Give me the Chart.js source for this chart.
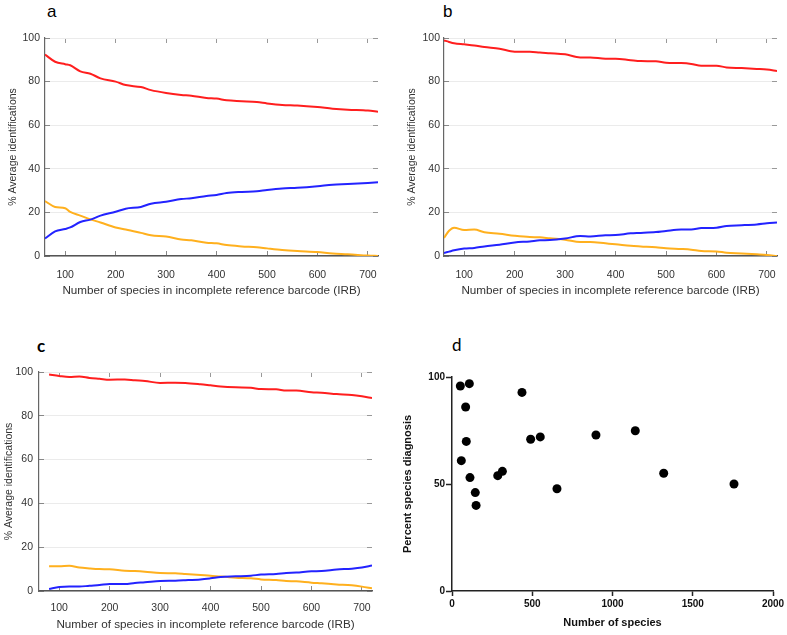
<!DOCTYPE html>
<html>
<head>
<meta charset="utf-8">
<script src="https://cdn.jsdelivr.net/npm/chart.js@4"></script>
<style>
  body { margin: 0; background: #fff; width: 787px; height: 635px; position: relative; overflow: hidden; }
  canvas { position: absolute; }
  .letra { position: absolute; font-size: 17px; color: #000; line-height: 1; }
</style>
</head>
<body>
<div class="letra" style="left:47px;top:3px;font-family:'Liberation Sans',Arial,sans-serif">a</div>
<div class="letra" style="left:443px;top:3px;font-family:'Liberation Sans',Arial,sans-serif">b</div>
<div class="letra" style="left:37px;top:337px;font-family:Lato,sans-serif;font-weight:bold">c</div>
<div class="letra" style="left:452px;top:336px;font-family:Lato,sans-serif">d</div>

<canvas id="ga" width="390" height="300" style="left:0;top:0"></canvas>
<canvas id="gb" width="397" height="300" style="left:390px;top:0"></canvas>
<canvas id="gc" width="390" height="335" style="left:0;top:300px"></canvas>
<canvas id="gd" width="397" height="335" style="left:390px;top:300px"></canvas>

<script>
// ticks de los paneles a, b, c
const ticksX = [100, 200, 300, 400, 500, 600, 700];
const ticksY = [0, 20, 40, 60, 80, 100];

// panel a
const aX = [60, 80, 100, 110, 130, 150, 170, 200, 220, 250, 270, 300, 330, 350, 380, 400, 420, 450, 480, 500, 530, 560, 600, 630, 660, 700, 720];
const aRojo = [92.4, 89.1, 88, 87.5, 84.7, 83.6, 81.5, 80, 78.4, 77.5, 76.1, 74.8, 73.9, 73.5, 72.5, 72.2, 71.4, 71, 70.6, 70, 69.3, 69, 68.3, 67.6, 67.1, 66.7, 66.2];
const aAzul = [8, 11.3, 12.4, 13.1, 15.6, 16.7, 18.5, 20.3, 21.7, 22.5, 24, 24.9, 26.1, 26.5, 27.5, 28, 28.9, 29.4, 29.7, 30.3, 31, 31.3, 32, 32.7, 33, 33.5, 33.8];
const aNaranja = [25.2, 22.5, 21.9, 20.2, 18.5, 16.8, 15.4, 13.1, 12.2, 10.6, 9.5, 8.9, 7.6, 7.2, 6.1, 5.8, 5, 4.4, 4, 3.5, 2.8, 2.3, 1.8, 1.1, 0.8, 0.2, 0];

// panel b
const bX = [60, 70, 80, 100, 120, 140, 170, 200, 230, 250, 270, 300, 330, 350, 380, 400, 430, 450, 480, 500, 530, 550, 570, 600, 620, 650, 680, 700, 720];
const bRojo = [98.9, 98.2, 97.6, 97.1, 96.6, 95.9, 95.1, 93.7, 93.7, 93.3, 93, 92.5, 91.1, 91.1, 90.5, 90.5, 89.8, 89.4, 89.3, 88.7, 88.5, 88.1, 87.3, 87.3, 86.5, 86.2, 85.8, 85.5, 84.9];
const bAzul = [1.4, 2, 2.6, 3.4, 3.7, 4.4, 5.2, 6.2, 6.7, 7.2, 7.3, 8, 9.2, 9, 9.5, 9.6, 10.4, 10.6, 11, 11.5, 12.1, 12.1, 12.8, 13, 13.8, 14.1, 14.5, 15, 15.4];
const bNaranja = [8.3, 11.6, 13, 11.9, 12.1, 10.9, 10.2, 9.3, 8.7, 8.6, 8.1, 7.5, 6.4, 6.4, 5.8, 5.4, 4.7, 4.4, 4, 3.5, 3.2, 2.9, 2.3, 2.1, 1.5, 1.2, 0.8, 0.5, 0];

// panel c
const cX = [80, 100, 120, 140, 160, 180, 200, 230, 250, 270, 300, 330, 350, 380, 400, 420, 450, 480, 500, 530, 550, 570, 600, 620, 650, 680, 700, 720];
const cRojo = [98.9, 98.2, 97.7, 97.9, 97.3, 96.9, 96.5, 96.6, 96.2, 95.9, 95, 95.1, 95, 94.4, 93.9, 93.4, 93, 92.8, 92.2, 92.1, 91.5, 91.5, 90.7, 90.5, 89.9, 89.5, 88.9, 88.1];
const cAzul = [0.9, 1.8, 2, 2, 2.4, 2.7, 3.2, 3.2, 3.7, 4, 4.6, 4.7, 4.9, 5.3, 5.8, 6.4, 6.7, 7, 7.5, 7.8, 8.2, 8.4, 9, 9.1, 9.8, 10.2, 10.7, 11.6];
const cNaranja = [11.3, 11.3, 11.5, 10.7, 10.3, 10, 9.9, 9.3, 9.1, 8.8, 8.2, 8.1, 7.8, 7.3, 7, 6.6, 6.1, 5.8, 5.3, 5, 4.6, 4.4, 3.8, 3.5, 3, 2.6, 2, 1.2];

// panel d
const dEspecies = [52, 108, 85, 89, 58, 112, 145, 150, 285, 314, 436, 490, 550, 654, 897, 1142, 1319, 1757];
const dDiagnostico = [95.8, 96.9, 86, 69.9, 60.9, 53, 46, 40, 53.9, 55.9, 92.8, 70.9, 72, 47.8, 72.9, 74.9, 55, 50];
const dTicksX = [0, 500, 1000, 1500, 2000];
const dTicksY = [0, 50, 100];

const FUENTE = "'Liberation Sans', Arial, sans-serif";
const ROJO = "rgb(255, 30, 30)";
const AZUL = "rgb(35, 35, 255)";
const NARANJA = "rgb(255, 176, 30)";

function fijarTicks(lista) {
  return function (s) { s.ticks = lista.map(v => ({ value: v })); };
}

function sinPadding(s) {
  s.paddingLeft = 0; s.paddingRight = 0; s.paddingTop = 0; s.paddingBottom = 0;
}

function panelLineas(id, xs, rojo, azul, naranja, caja) {
  const puntos = arr => xs.map((x, i) => ({ x: x, y: arr[i] }));
  const serie = (arr, color) => ({
    data: puntos(arr), borderColor: color, backgroundColor: color,
    borderWidth: 2, pointRadius: 0, tension: 0.4, cubicInterpolationMode: "monotone", fill: false
  });
  const marcas = { drawOnChartArea: false, tickLength: -5, tickColor: "#999", tickWidth: 1 };

  return new Chart(document.getElementById(id), {
    type: "line",
    data: { datasets: [serie(rojo, ROJO), serie(azul, AZUL), serie(naranja, NARANJA)] },
    options: {
      responsive: false,
      animation: false,
      plugins: { legend: { display: false }, tooltip: { enabled: false } },
      layout: { padding: 0 },
      scales: {
        x: {
          type: "linear", position: "bottom", min: 60, max: 720,
          afterBuildTicks: fijarTicks(ticksX),
          afterFit: s => { s.height = caja.abajo; sinPadding(s); },
          grid: { drawOnChartArea: false, tickLength: -5, tickColor: "#888", tickWidth: 1 },
          border: { color: "#555", width: 1.5 },
          ticks: { padding: caja.padX, color: "#333", font: { family: FUENTE, size: 10.5 } },
          title: {
            display: true, text: "Number of species in incomplete reference barcode (IRB)",
            color: "#333", font: { family: FUENTE, size: 11.7 }, padding: { top: 0, bottom: caja.tituloX }
          }
        },
        x2: {
          type: "linear", position: "top", min: 60, max: 720,
          afterBuildTicks: fijarTicks(ticksX),
          afterFit: s => { s.height = caja.arriba; sinPadding(s); },
          grid: marcas,
          border: { display: false },
          ticks: { display: false }
        },
        y: {
          type: "linear", position: "left", min: 0, max: 100,
          afterBuildTicks: fijarTicks(ticksY),
          afterFit: s => { s.width = caja.izq; sinPadding(s); },
          grid: { color: "#ebebeb", lineWidth: 1, tickLength: -5, tickColor: "#888", tickWidth: 1 },
          border: { color: "#666", width: 1.2 },
          ticks: { padding: caja.padY, color: "#333", font: { family: FUENTE, size: 10.5 } },
          title: {
            display: true, text: "% Average identifications",
            color: "#333", font: { family: FUENTE, size: 10.5 }, padding: { top: caja.tituloY, bottom: 0 }
          }
        },
        y2: {
          type: "linear", position: "right", min: 0, max: 100,
          afterBuildTicks: fijarTicks(ticksY),
          afterFit: s => { s.width = caja.der; sinPadding(s); },
          grid: marcas,
          border: { display: false },
          ticks: { display: false }
        }
      }
    }
  });
}

panelLineas("ga", aX, aRojo, aAzul, aNaranja,
  { izq: 45, der: 12, arriba: 38, abajo: 44, padX: 18, padY: 10, tituloX: 2, tituloY: 7 });
panelLineas("gb", bX, bRojo, bAzul, bNaranja,
  { izq: 54, der: 10, arriba: 38, abajo: 44, padX: 18, padY: 9, tituloX: 2, tituloY: 16 });
panelLineas("gc", cX, cRojo, cAzul, cNaranja,
  { izq: 39, der: 18, arriba: 72, abajo: 44, padX: 16, padY: 11, tituloX: 3, tituloY: 3 });

// panel d: dispersión
new Chart(document.getElementById("gd"), {
  type: "scatter",
  data: {
    datasets: [{
      data: dEspecies.map((x, i) => ({ x: x, y: dDiagnostico[i] })),
      backgroundColor: "#000", borderColor: "#000", pointRadius: 4.5, borderWidth: 0
    }]
  },
  options: {
    responsive: false,
    animation: false,
    plugins: { legend: { display: false }, tooltip: { enabled: false } },
    layout: { padding: { top: 77, right: 14, left: 0, bottom: 0 } },
    scales: {
      x: {
        type: "linear", min: 0, max: 2000,
        afterBuildTicks: fijarTicks(dTicksX),
        afterFit: s => { s.height = 44; sinPadding(s); },
        grid: { drawOnChartArea: false, tickLength: 5, tickColor: "#222", tickWidth: 1.5 },
        border: { color: "#222", width: 1.5 },
        ticks: { padding: 2, color: "#111", font: { family: FUENTE, size: 10, weight: "bold" }, callback: v => String(v) },
        title: {
          display: true, text: "Number of species",
          color: "#111", font: { family: FUENTE, size: 11, weight: "bold" }, padding: { top: 0, bottom: 5 }
        }
      },
      y: {
        type: "linear", min: 0, max: 100,
        afterBuildTicks: fijarTicks(dTicksY),
        afterFit: s => { s.width = 62; sinPadding(s); },
        grid: { drawOnChartArea: false, tickLength: 6, tickColor: "#222", tickWidth: 1.5 },
        border: { color: "#222", width: 1.5 },
        ticks: { padding: 1, color: "#111", font: { family: FUENTE, size: 10, weight: "bold" }, callback: v => String(v) },
        title: {
          display: true, text: "Percent species diagnosis",
          color: "#111", font: { family: FUENTE, size: 11, weight: "bold" }, padding: { top: 11, bottom: 0 }
        }
      }
    }
  }
});
</script>
</body>
</html>
